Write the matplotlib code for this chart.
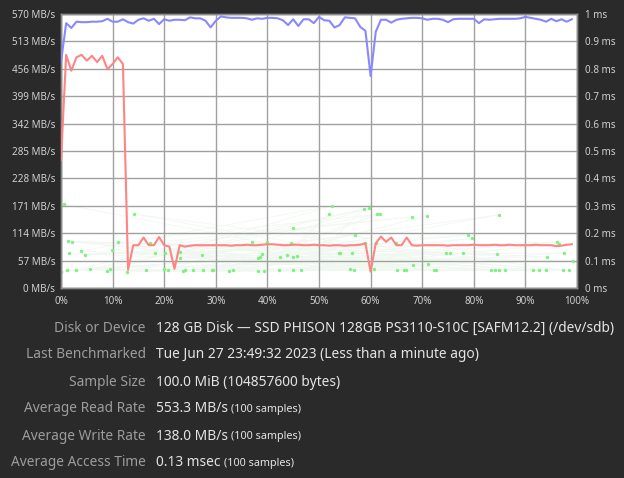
"""
Disk benchmark chart (read / write rate + access time) with info rows below.
"""

import numpy as np
import matplotlib
matplotlib.use("Agg")
import matplotlib.pyplot as plt

BG = "#2a2a2a"
TICK_COL = "#d0d0d0"
LABEL_COL = "#9c9c9c"
VALUE_COL = "#e4e4e4"
GRID_COL = "#a0a0a0"
READ_COL = "#8888ff"
WRITE_COL = "#ff8484"
ACCESS_COL = "#80f080"

FONT = ["Noto Sans", "DejaVu Sans"]

# Data
rate_ticks = [0, 57, 114, 171, 228, 285, 342, 399, 456, 513, 570]
ms_ticks = [0, 0.1, 0.2, 0.3, 0.4, 0.5, 0.6, 0.7, 0.8, 0.9, 1.0]
pct_ticks = [0, 10, 20, 30, 40, 50, 60, 70, 80, 90, 100]

read_rate = [
    470, 551, 541, 554, 553, 553, 554, 554, 555, 560,
    554, 554, 559, 553, 550, 558, 561, 556, 560, 549,
    559, 556, 558, 558, 557, 563, 561, 561, 556, 542,
    556, 565, 563, 562, 562, 562, 561, 558, 561, 560,
    562, 562, 561, 557, 547, 559, 545, 559, 559, 551,
    564, 557, 556, 542, 547, 563, 562, 561, 543, 535,
    441, 533, 558, 558, 552, 558, 560, 561, 562, 562,
    561, 558, 560, 560, 558, 553, 559, 560, 560, 560,
    560, 551, 559, 558, 559, 560, 560, 560, 560, 561,
    564, 562, 560, 558, 554, 560, 555, 559, 554, 559,
]

write_rate = [
    266, 485, 452, 480, 485, 473, 483, 470, 483, 455,
    466, 480, 466, 38, 89, 89, 105, 89, 89, 106,
    89, 86, 40, 89, 86, 88, 89, 89, 89, 89,
    89, 89, 89, 88, 89, 89, 90, 89, 89, 90,
    91, 91, 90, 89, 89, 90, 90, 89, 89, 90,
    89, 89, 88, 89, 89, 88, 89, 89, 90, 93,
    34, 93, 107, 96, 105, 89, 89, 105, 89, 88,
    89, 89, 89, 89, 89, 88, 89, 89, 89, 89,
    90, 89, 89, 89, 90, 89, 89, 90, 89, 89,
    89, 89, 90, 89, 89, 89, 87, 88, 90, 91,
]

# access time samples in the order they were taken (position %, ms)
access_pos = [
    0.5, 66.9, 1.2, 45.8, 3.0, 97.3, 14.1, 56.3, 1.5, 84.1,
    9.0, 52.5, 3.9, 72.2, 1.3, 94.1, 5.6, 61.2, 11.0, 91.5,
    9.4, 78.9, 4.6, 39.9, 12.7, 83.3, 16.4, 74.7, 2.2, 56.0,
    9.9, 68.0, 17.2, 98.4, 19.9, 65.0, 18.2, 86.0, 20.7, 59.6,
    23.1, 92.6, 23.6, 96.1, 20.1, 72.6, 24.0, 53.9, 23.0, 84.9,
    25.5, 44.5, 27.4, 99.3, 27.6, 58.9, 29.3, 75.4, 37.0, 94.0,
    29.5, 71.0, 38.2, 60.7, 32.5, 79.6, 38.6, 84.9, 33.3, 61.8,
    39.0, 97.4, 38.2, 68.3, 42.4, 65.1, 39.4, 52.0, 43.8, 96.6,
    42.3, 78.0, 44.9, 66.5, 45.0, 84.4, 44.9, 71.1, 57.0, 0.0,
    58.7, 46.6, 61.1, 56.8, 54.1,
]
access_ms = [
    0.305, 0.066, 0.065, 0.117, 0.067, 0.066, 0.270, 0.127, 0.126, 0.066,
    0.063, 0.299, 0.135, 0.066, 0.171, 0.114, 0.071, 0.269, 0.168, 0.066,
    0.068, 0.193, 0.120, 0.167, 0.060, 0.066, 0.065, 0.127, 0.168, 0.069,
    0.138, 0.260, 0.165, 0.066, 0.068, 0.165, 0.127, 0.066, 0.066, 0.291,
    0.133, 0.066, 0.062, 0.168, 0.128, 0.066, 0.066, 0.129, 0.111, 0.267,
    0.066, 0.166, 0.120, 0.099, 0.066, 0.165, 0.066, 0.128, 0.168, 0.066,
    0.066, 0.263, 0.111, 0.069, 0.063, 0.181, 0.112, 0.066, 0.066, 0.271,
    0.124, 0.127, 0.063, 0.084, 0.112, 0.065, 0.063, 0.269, 0.119, 0.160,
    0.065, 0.127, 0.112, 0.066, 0.218, 0.123, 0.065, 0.087, 0.193, 0.058,
    0.288, 0.066, 0.166, 0.065, 0.127,
]

info_labels = [
    "Disk or Device",
    "Last Benchmarked",
    "Sample Size",
    "Average Read Rate",
    "Average Write Rate",
    "Average Access Time",
]
info_values = [
    "128 GB Disk \u2014 SSD PHISON 128GB PS3110-S10C [SAFM12.2] (/dev/sdb)",
    "Tue Jun 27 23:49:32 2023 (Less than a minute ago)",
    "100.0 MiB (104857600 bytes)",
    "553.3 MB/s",
    "138.0 MB/s",
    "0.13 msec",
]
info_notes = ["", "", "", "(100 samples)", "(100 samples)", "(100 samples)"]


W, H = 624, 478
fig = plt.figure(figsize=(W / 100, H / 100), dpi=100, facecolor=BG)

# plot box in pixels: x 61..577, y 14..288
L, R, T, B = 61, 577, 14, 288
ax2 = fig.add_axes([L / W, 1 - B / H, (R - L) / W, (B - T) / H])
ax2.set_facecolor("white")
ax = ax2.twinx()  # rate axis on top of access-time axis
ax.yaxis.tick_left()
ax2.yaxis.tick_right()

ax.set_xlim(0, 100)
ax.set_ylim(0, 570)
ax.set_xticks(pct_ticks)
ax2.set_xticklabels([f"{p}%" for p in pct_ticks])
ax.set_yticks(rate_ticks)
ax.set_yticklabels([f"{v} MB/s" for v in rate_ticks])
ax.tick_params(length=0, colors=TICK_COL, labelsize=7.1, pad=4)

ax2.set_xlim(0, 100)
ax2.set_xticks(pct_ticks)
ax2.set_ylim(0, 1)
ax2.set_yticks(ms_ticks)
ax2.set_yticklabels([f"{v:g} ms" for v in ms_ticks])
ax2.tick_params(length=0, colors=TICK_COL, labelsize=7.1, pad=6)
ax2.grid(True, color=GRID_COL, lw=1.0)
ax2.set_axisbelow(True)

for a in (ax, ax2):
    for lbl in a.get_xticklabels() + a.get_yticklabels():
        lbl.set_family(FONT)
    for sp in a.spines.values():
        sp.set_color("#8a8a8a")
        sp.set_linewidth(1.0)

# access time: faint lines in sampling order + dots
ax2.plot(access_pos, access_ms, color="#7fbf7f", lw=0.6, alpha=0.10, zorder=1)
ax2.scatter(access_pos, access_ms, s=6, color=ACCESS_COL, linewidths=0, zorder=2)

samples = np.arange(len(read_rate))
ax.plot(samples, read_rate, color=READ_COL, lw=1.5, zorder=4)
ax.plot(samples, write_rate, color=WRITE_COL, lw=1.5, zorder=4)

# info rows
row_y = [328, 355, 382, 409, 436, 463]
for lab, val, note, y in zip(info_labels, info_values, info_notes, row_y):
    yf = 1 - y / H
    fig.text(146 / W, yf, lab, ha="right", va="center", color=LABEL_COL,
             fontsize=9.9, family=FONT)
    t = fig.text(156 / W, yf, val, ha="left", va="center", color=VALUE_COL,
                 fontsize=9.9, family=FONT)
    if note:
        fig.add_artist(plt.Annotation(
            note, xy=(1, 0.5), xycoords=t, xytext=(2.5, -0.6),
            textcoords="offset points", ha="left", va="center",
            color=VALUE_COL, fontsize=7.8, family=FONT,
            annotation_clip=False))

fig.savefig("out.png", dpi=100, facecolor=BG)
